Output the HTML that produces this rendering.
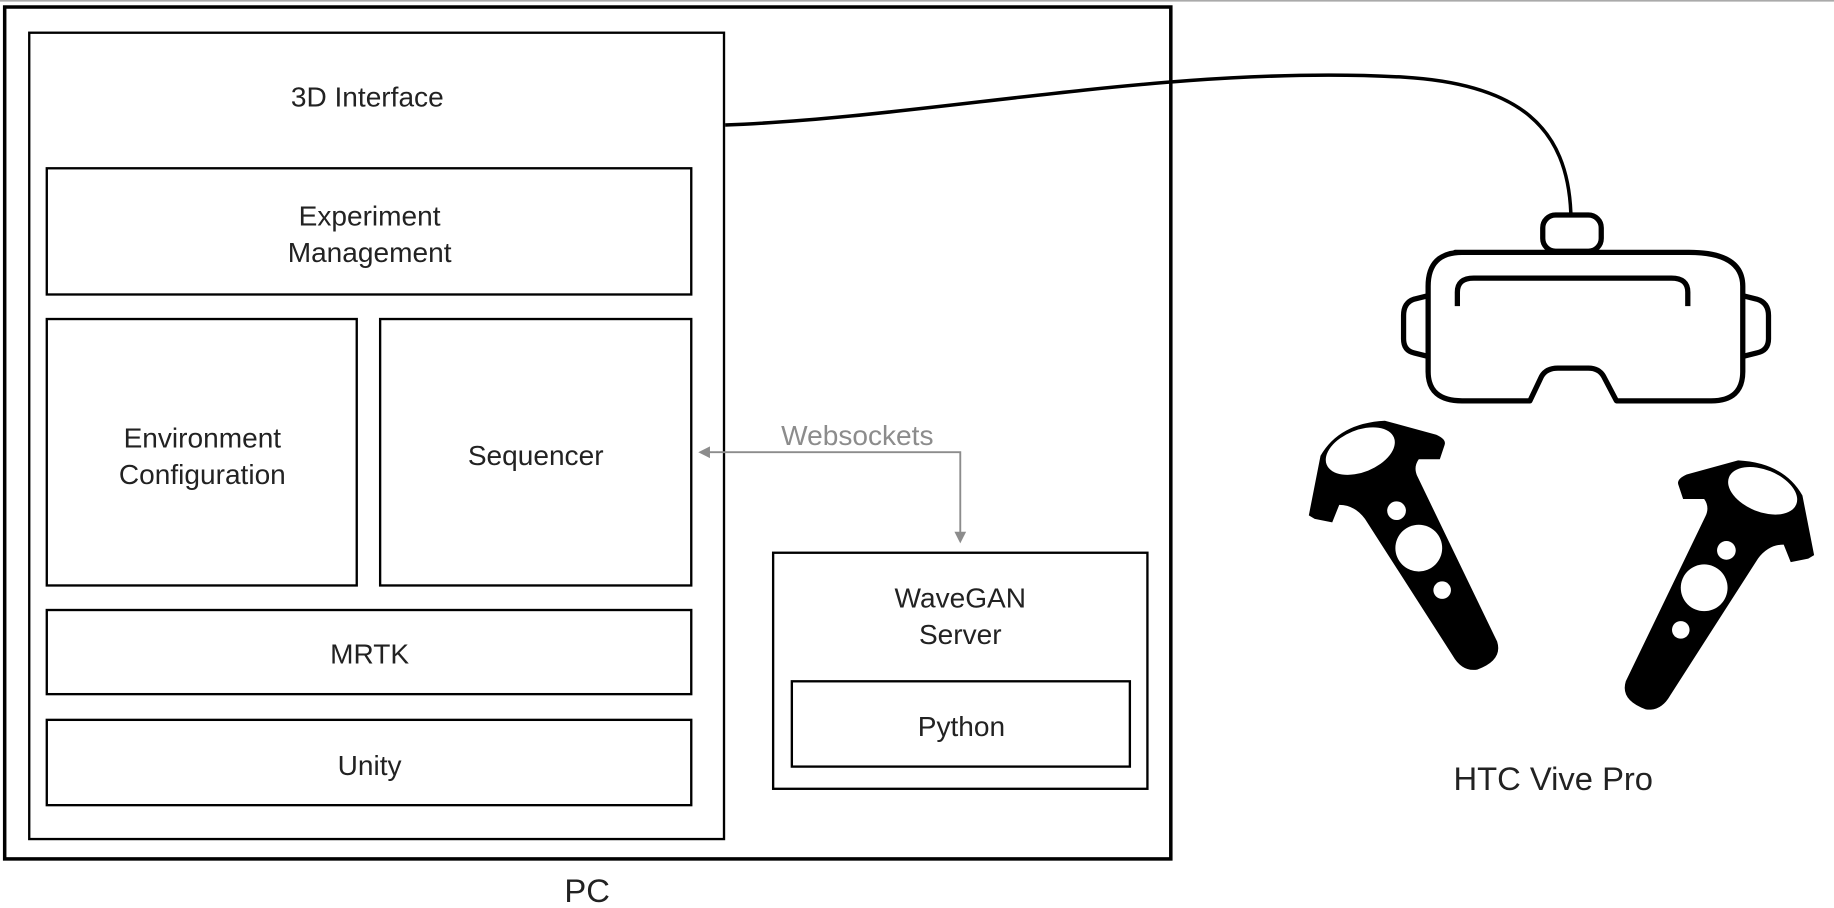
<!DOCTYPE html>
<html><head><meta charset="utf-8"><style>
html,body{margin:0;padding:0;background:#fff;}
svg{display:block;}
text{font-family:"Liberation Sans","DejaVu Sans",sans-serif;fill:#222;}
</style></head><body>
<svg width="1834" height="908" viewBox="0 0 1568 777" preserveAspectRatio="none" xmlns="http://www.w3.org/2000/svg">
<line x1="0" y1="0.7" x2="1568" y2="0.7" stroke="#aaa" stroke-width="1.4"/>
<rect x="4" y="6" width="997" height="729" fill="none" stroke="#000" stroke-width="3"/>
<rect x="25" y="28" width="594" height="690" fill="none" stroke="#000" stroke-width="2"/>
<text x="314" y="91" font-size="24" text-anchor="middle">3D Interface</text>
<rect x="40" y="144" width="551" height="108" fill="none" stroke="#000" stroke-width="2"/>
<text x="316" y="193" font-size="24" text-anchor="middle">Experiment</text>
<text x="316" y="224" font-size="24" text-anchor="middle">Management</text>
<rect x="40" y="273" width="265" height="228" fill="none" stroke="#000" stroke-width="2"/>
<text x="173" y="383" font-size="24" text-anchor="middle">Environment</text>
<text x="173" y="414" font-size="24" text-anchor="middle">Configuration</text>
<rect x="325" y="273" width="266" height="228" fill="none" stroke="#000" stroke-width="2"/>
<text x="458" y="398" font-size="24" text-anchor="middle">Sequencer</text>
<rect x="40" y="522" width="551" height="72" fill="none" stroke="#000" stroke-width="2"/>
<text x="316" y="568" font-size="24" text-anchor="middle">MRTK</text>
<rect x="40" y="616" width="551" height="73" fill="none" stroke="#000" stroke-width="2"/>
<text x="316" y="663" font-size="24" text-anchor="middle">Unity</text>
<rect x="661" y="473" width="320" height="202" fill="none" stroke="#000" stroke-width="2"/>
<text x="821" y="520" font-size="24" text-anchor="middle">WaveGAN</text>
<text x="821" y="551" font-size="24" text-anchor="middle">Server</text>
<rect x="677" y="583" width="289" height="73" fill="none" stroke="#000" stroke-width="2"/>
<text x="822" y="630" font-size="24" text-anchor="middle">Python</text>
<text x="502" y="772" font-size="28" text-anchor="middle">PC</text>
<text x="1328" y="676" font-size="28" text-anchor="middle">HTC Vive Pro</text>
<text x="733" y="381" font-size="24" text-anchor="middle" style="fill:#8c8c8c">Websockets</text>
<polyline points="604,387 821,387 821,458" fill="none" stroke="#8c8c8c" stroke-width="1.6"/>
<polygon points="597,387 607,382 607,392" fill="#8c8c8c"/>
<polygon points="821,465 816,455 826,455" fill="#8c8c8c"/>
<path d="M620,107 C800,100 1000,55 1200,66 C1300,72 1340,110 1343,182" fill="none" stroke="#000" stroke-width="3"/>
<g fill="none" stroke="#000" stroke-width="4.5" stroke-linejoin="round">
<rect x="1319" y="184" width="50" height="31" rx="11"/>
<path d="M1244,216 H1444 Q1490,216 1490,245 V318 Q1490,343 1463,343 H1382 L1371,322 Q1367,315 1358,315 H1332 Q1322,315 1318,322 L1308,343 H1250 Q1221,343 1221,318 V245 Q1221,216 1250,216 Z"/>
<path d="M1246,262 V250 Q1246,238 1260,238 H1429 Q1443,238 1443,250 V262"/>
<path d="M1221,253 L1209,256 Q1200,259 1200,270 V290 Q1200,300 1209,302 L1221,305"/>
<path d="M1490,253 L1502,256 Q1512,259 1512,270 V290 Q1512,300 1502,302 L1490,305"/>
</g>
<g id="ctl">
<path d="M1119,441 L1129,390 Q1145,362 1184,360 L1228,372 Q1237,376 1235,381 L1231,393 L1213,393 Q1208,400 1212,408 L1280,549 Q1285,565 1263,573 Q1250,575 1242,561 L1167,444 Q1158,432 1145,432 L1139,447 L1124,444 Z" fill="#000"/>
<ellipse cx="1163" cy="386" rx="31" ry="18" transform="rotate(-22 1163 386)" fill="#fff"/>
<circle cx="1194" cy="437" r="8" fill="#fff"/>
<circle cx="1213" cy="469" r="20" fill="#fff"/>
<circle cx="1233" cy="505" r="7.5" fill="#fff"/>
</g>
<use href="#ctl" transform="translate(2670,34) scale(-1,1)"/>
</svg>
</body></html>
